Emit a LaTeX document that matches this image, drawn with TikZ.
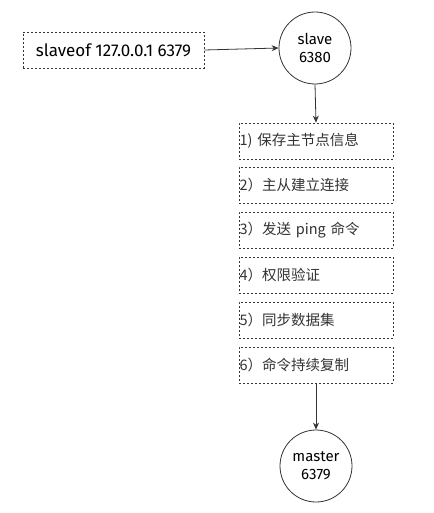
\documentclass[tikz,border=0pt]{standalone}
\usepackage{fontspec}
\setmainfont{Fira Sans}
\newfontfamily\cjk{Noto Sans CJK SC}
\usetikzlibrary{arrows.meta}
\definecolor{ink}{HTML}{333333}
\tikzset{
  dotbox/.style={draw=ink, line width=0.8pt, dash pattern=on 2pt off 2pt,
    rectangle, minimum height=36pt, inner sep=0pt},
  stepbox/.style={dotbox, minimum width=154pt, text width=153pt, align=left,
    font=\cjk\fontsize{14.5}{17}\selectfont, text=ink},
  hostnode/.style={draw=ink, line width=0.8pt, circle, minimum size=72pt,
    inner sep=0pt, align=center, font=\fontsize{15}{18}\selectfont, text=black},
  flow/.style={draw=ink, line width=0.8pt, -{Stealth[length=7pt,width=6pt]}},
}
\begin{document}
\begin{tikzpicture}[x=1pt, y=-1pt]
  \useasboundingbox (0,0) rectangle (433,513);
  % command issued on the replica
  \node[dotbox, minimum width=181pt, font=\fontsize{17}{20}\selectfont] (cmd) at (113.5,50) {slaveof 127.0.0.1 6379};
  \node[hostnode] (slave) at (315,48) {slave\\6380};
  % replication steps
  \node[stepbox] (s1) at (316,141) {1) 保存主节点信息};
  \node[stepbox] (s2) at (316,185) {2）主从建立连接};
  \node[stepbox] (s3) at (316,230) {3）发送 ping 命令};
  \node[stepbox] (s4) at (316,275) {4）权限验证};
  \node[stepbox] (s5) at (316,320) {5）同步数据集};
  \node[stepbox] (s6) at (316,365) {6）命令持续复制};
  \node[hostnode] (master) at (316,466) {master\\6379};
  % connectors
  \draw[flow] (cmd.east) -- (slave.west);
  \draw[flow] (slave.south) -- (s1.north);
  \draw[flow] (s6.south) -- (master.north);
\end{tikzpicture}
\end{document}
